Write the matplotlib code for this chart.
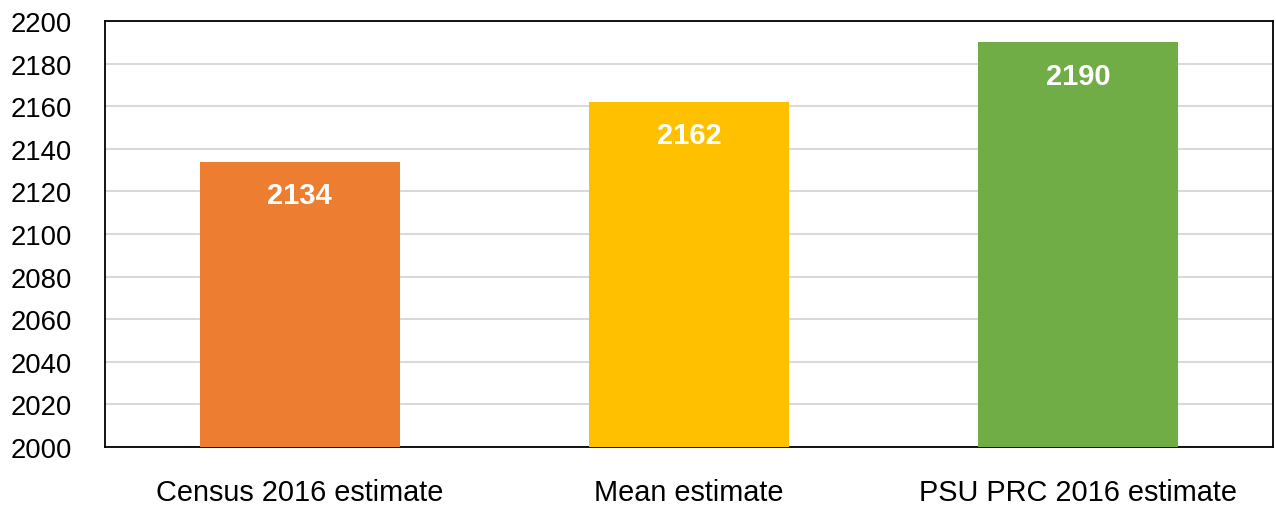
import matplotlib.pyplot as plt

categories = ['Census 2016 estimate', 'Mean estimate', 'PSU PRC 2016 estimate']
values = [2134, 2162, 2190]
colors = ['#ED7D31', '#FFC000', '#70AD47']
y_ticks = list(range(2000, 2201, 20))

plt.rcParams['font.family'] = ['Liberation Sans', 'DejaVu Sans']

fig = plt.figure(figsize=(12.76, 5.06), dpi=100)
ax = fig.add_axes([105 / 1276, 58 / 506, 1168 / 1276, 426 / 506])

x = range(len(categories))
ax.bar(x, values, width=0.514, color=colors, zorder=3)

# value labels inside the bar tops
for xi, v in zip(x, values):
    ax.annotate(str(v), xy=(xi, v), xytext=(0, -24), textcoords='offset points',
                ha='center', va='center', color='white', fontsize=21,
                fontweight='bold', zorder=4)

ax.set_xlim(-0.5, 2.5)
ax.set_ylim(2000, 2200)
ax.set_yticks(y_ticks)
ax.set_xticks(list(x))
ax.set_xticklabels(categories)
ax.tick_params(axis='both', length=0, colors='black')
ax.tick_params(axis='y', pad=24, labelsize=19.8)
ax.tick_params(axis='x', pad=22, labelsize=20.8)
ax.yaxis.grid(True, color='#d9d9d9', linewidth=1.5, zorder=0)
ax.set_axisbelow(True)

for side in ['top', 'right', 'left', 'bottom']:
    ax.spines[side].set_color('black')
    ax.spines[side].set_linewidth(1.3)

fig.savefig('out.png', dpi=100, facecolor='white')
